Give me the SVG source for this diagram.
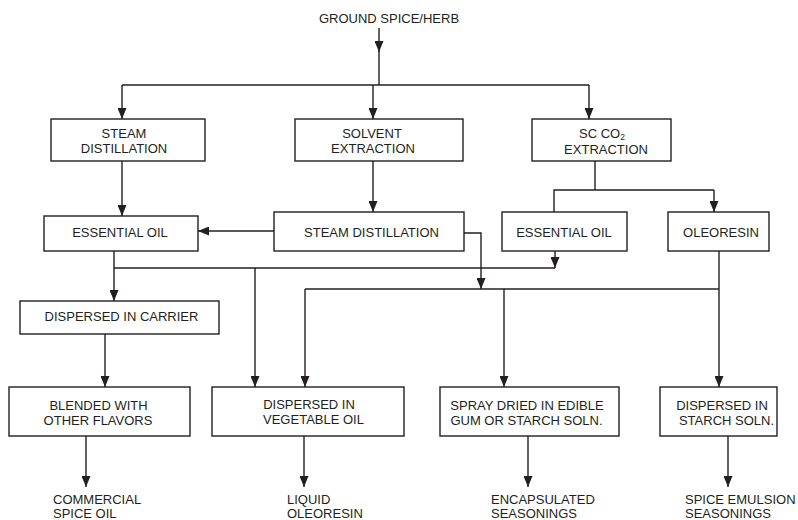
<svg xmlns="http://www.w3.org/2000/svg" width="798" height="520" viewBox="0 0 798 520">
  <style>
    .box { fill: #ffffff; stroke: #231f20; stroke-width: 1.4; }
    .lbl { font-family: "Liberation Sans", Arial, Helvetica, sans-serif; font-size: 13px; fill: #231f20; }
    .mid { text-anchor: middle; }
    .wire { fill: none; stroke: #231f20; stroke-width: 1.4; }
    .arr { marker-end: url(#head); }
  </style>
  <defs>
    <marker id="head" viewBox="0 0 11 9" refX="11" refY="4.5" markerWidth="11" markerHeight="9" markerUnits="userSpaceOnUse" orient="auto">
      <path d="M0,0 L11,4.5 L0,9 Z" fill="#231f20"/>
    </marker>
  </defs>
  <rect width="798" height="520" fill="#ffffff"/>

  <!-- connectors -->
  <g id="connectors">
    <path class="wire arr" d="M379,28 V52"/>
    <path class="wire" d="M379,51 V85"/>
    <path class="wire" d="M122,85 H589"/>
    <path class="wire arr" d="M122,85 V119"/>
    <path class="wire arr" d="M373,85 V119"/>
    <path class="wire arr" d="M589,85 V119"/>

    <path class="wire arr" d="M122,161 V216"/>
    <path class="wire arr" d="M373,161 V212"/>
    <path class="wire arr" d="M274,231 H198"/>

    <path class="wire" d="M595,161 V190"/>
    <path class="wire" d="M554,212 V190 H714"/>
    <path class="wire arr" d="M714,190 V212"/>

    <path class="wire arr" d="M114,251 V301"/>
    <path class="wire" d="M114,268 H555"/>
    <path class="wire arr" d="M555,251 V268"/>
    <path class="wire arr" d="M255,268 V387"/>

    <path class="wire arr" d="M464,233 H481 V289"/>
    <path class="wire" d="M305,289 H719"/>
    <path class="wire arr" d="M305,289 V387"/>
    <path class="wire arr" d="M504,289 V387"/>
    <path class="wire arr" d="M719,251 V387"/>

    <path class="wire arr" d="M105,334 V387"/>

    <path class="wire arr" d="M86,436 V487"/>
    <path class="wire arr" d="M304,436 V487"/>
    <path class="wire arr" d="M528,436 V487"/>
    <path class="wire arr" d="M728,436 V487"/>
  </g>

  <!-- source -->
  <g id="ground-spice">
    <text class="lbl mid" x="389" y="23">GROUND SPICE/HERB</text>
  </g>

  <!-- extraction methods -->
  <g id="steam-distillation">
    <rect class="box" x="51" y="119" width="154" height="42"/>
    <text class="lbl mid" x="124" y="138">STEAM</text>
    <text class="lbl mid" x="124" y="153">DISTILLATION</text>
  </g>
  <g id="solvent-extraction">
    <rect class="box" x="295" y="119" width="168" height="42"/>
    <text class="lbl mid" x="372" y="138">SOLVENT</text>
    <text class="lbl mid" x="373" y="153">EXTRACTION</text>
  </g>
  <g id="sc-co2-extraction">
    <rect class="box" x="532" y="119" width="139" height="42"/>
    <text class="lbl" x="579" y="137.5">SC CO<tspan font-size="8.5" dy="2.5">2</tspan></text>
    <text class="lbl mid" x="606" y="154">EXTRACTION</text>
  </g>

  <!-- intermediate products -->
  <g id="essential-oil-1">
    <rect class="box" x="44" y="216" width="154" height="35"/>
    <text class="lbl mid" x="120" y="237">ESSENTIAL OIL</text>
  </g>
  <g id="steam-distillation-2">
    <rect class="box" x="274" y="212" width="190" height="39"/>
    <text class="lbl mid" x="371.5" y="237">STEAM DISTILLATION</text>
  </g>
  <g id="essential-oil-2">
    <rect class="box" x="502" y="212" width="125" height="39"/>
    <text class="lbl mid" x="564" y="237">ESSENTIAL OIL</text>
  </g>
  <g id="oleoresin">
    <rect class="box" x="668" y="212" width="101" height="39"/>
    <text class="lbl mid" x="721" y="237">OLEORESIN</text>
  </g>
  <g id="dispersed-carrier">
    <rect class="box" x="20" y="301" width="199" height="33"/>
    <text class="lbl mid" x="121.5" y="321">DISPERSED IN CARRIER</text>
  </g>

  <!-- final treatments -->
  <g id="blended">
    <rect class="box" x="9" y="387" width="181" height="49"/>
    <text class="lbl mid" x="98.5" y="410">BLENDED WITH</text>
    <text class="lbl mid" x="98" y="425">OTHER FLAVORS</text>
  </g>
  <g id="vegetable-oil">
    <rect class="box" x="212" y="387" width="192" height="49"/>
    <text class="lbl mid" x="309" y="409">DISPERSED IN</text>
    <text class="lbl mid" x="313.5" y="424">VEGETABLE OIL</text>
  </g>
  <g id="spray-dried">
    <rect class="box" x="440" y="387" width="179" height="49"/>
    <text class="lbl mid" x="527" y="410">SPRAY DRIED IN EDIBLE</text>
    <text class="lbl mid" x="526.5" y="425">GUM OR STARCH SOLN.</text>
  </g>
  <g id="starch">
    <rect class="box" x="660" y="387" width="117" height="49"/>
    <text class="lbl mid" x="722" y="410">DISPERSED IN</text>
    <text class="lbl mid" x="726.5" y="425">STARCH SOLN.</text>
  </g>

  <!-- end products -->
  <g id="commercial-spice-oil">
    <text class="lbl" x="53" y="504">COMMERCIAL</text>
    <text class="lbl" x="53" y="518">SPICE OIL</text>
  </g>
  <g id="liquid-oleoresin">
    <text class="lbl" x="287" y="504">LIQUID</text>
    <text class="lbl" x="287" y="518">OLEORESIN</text>
  </g>
  <g id="encapsulated">
    <text class="lbl" x="491" y="504">ENCAPSULATED</text>
    <text class="lbl" x="491" y="518">SEASONINGS</text>
  </g>
  <g id="spice-emulsion">
    <text class="lbl" x="685" y="504">SPICE EMULSION</text>
    <text class="lbl" x="685" y="518">SEASONINGS</text>
  </g>
</svg>
